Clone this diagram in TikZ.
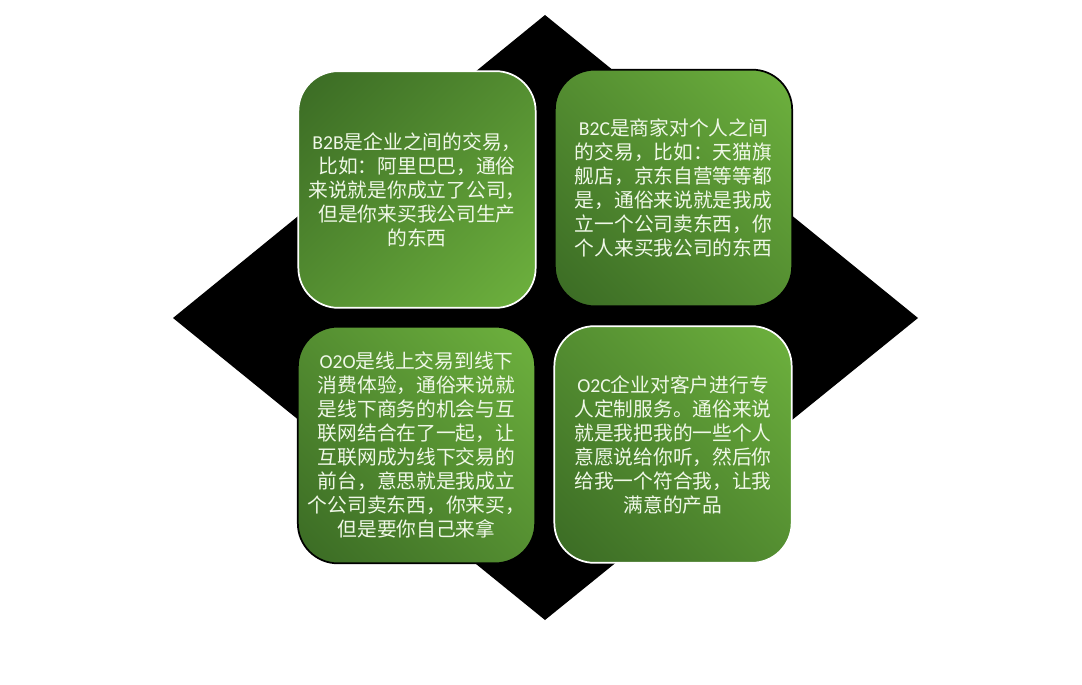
\documentclass[tikz,border=0pt]{standalone}
\usepackage{fontspec}
\usetikzlibrary{shadings}
\setmainfont{Noto Sans CJK SC}
\newfontfamily\lat{Carlito}
\definecolor{gdark}{RGB}{58,106,36}
\definecolor{glight}{RGB}{110,178,62}
\definecolor{gmid}{RGB}{84,142,49}
\definecolor{txt}{RGB}{240,248,232}
\begin{document}
\begin{tikzpicture}[x=0.75pt,y=-0.75pt,
  card/.style={rectangle, rounded corners=30pt, minimum width=178pt, minimum height=177.5pt,
    inner sep=0pt, align=center, text=txt, line width=1.3pt,
    font=\fontsize{14.8pt}{18pt}\selectfont},
  shadetl/.style={upper left=gdark, lower right=glight, upper right=gmid, lower left=gmid},
  shadetr/.style={upper right=glight, lower left=gdark, upper left=gmid, lower right=gmid}]
\useasboundingbox (0,0) rectangle (1082,685);
\coordinate (dt) at (545,15);
\coordinate (dr) at (918,318);
\coordinate (db) at (545,620);
\coordinate (dl) at (173,318);
\fill[black] (dt) -- (dr) -- (db) -- (dl) -- cycle;
\node[card, shadetl, draw=white] (b2b) at (417,189.5)
  {{\lat B2B}是企业之间的交易，\\比如：阿里巴巴，通俗\\来说就是你成立了公司，\\但是你来买我公司生产\\的东西};
\node[card, shadetr, draw=black] (b2c) at (673.5,188)
  {{\lat B2C}是商家对个人之间\\的交易，比如：天猫旗\\舰店，京东自营等等都\\是，通俗来说就是我成\\立一个公司卖东西，你\\个人来买我公司的东西};
\node[card, shadetr, draw=black] (o2o) at (416.5,445)
  {{\lat O2O}是线上交易到线下\\消费体验，通俗来说就\\是线下商务的机会与互\\联网结合在了一起，让\\互联网成为线下交易的\\前台，意思就是我成立\\个公司卖东西，你来买，\\但是要你自己来拿};
\node[card, shadetr, draw=white] (o2c) at (673,444.5)
  {{\lat O2C}企业对客户进行专\\人定制服务。通俗来说\\就是我把我的一些个人\\意愿说给你听，然后你\\给我一个符合我，让我\\满意的产品};
\end{tikzpicture}
\end{document}
